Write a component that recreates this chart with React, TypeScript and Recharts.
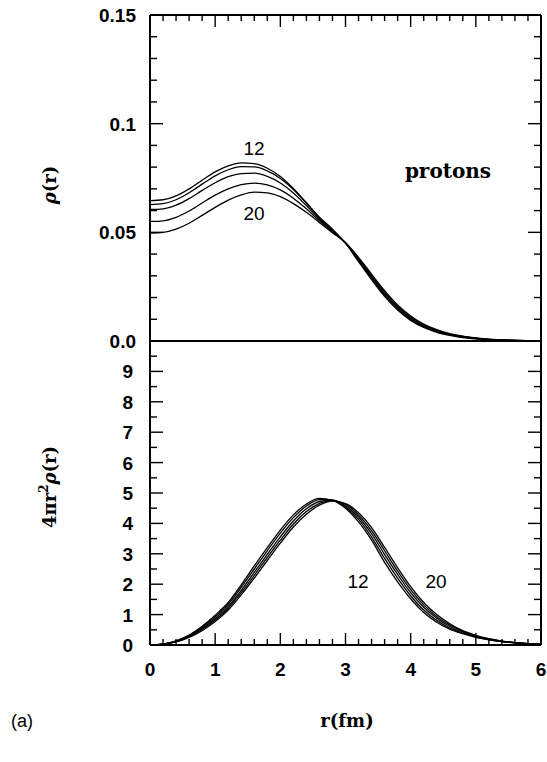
import React from 'react';
import { LineChart, Line, XAxis, YAxis, ReferenceLine } from 'recharts';

// radius grid (fm)
const rGrid = [0, 0.2, 0.4, 0.6, 0.8, 1.0, 1.2, 1.4, 1.6, 1.8, 2.0, 2.2, 2.4, 2.6, 2.8, 3.0, 3.2, 3.4, 3.6, 3.8, 4.0, 4.2, 4.4, 4.6, 4.8, 5.0, 5.2, 5.4, 5.6, 5.8, 6.0];

// proton density rho(r), curves labelled 12 ... 20
const rho12 = [0.0646, 0.0650, 0.0668, 0.0700, 0.0740, 0.0778, 0.0806, 0.0820, 0.0816, 0.0795, 0.0757, 0.0702, 0.0636, 0.0570, 0.0515, 0.0450, 0.0365, 0.0282, 0.0205, 0.0142, 0.0095, 0.0062, 0.0040, 0.0026, 0.0016, 0.0010, 0.0006, 0.00035, 0.0002, 0.0001, 0.00005];
const rho14 = [0.0628, 0.0632, 0.0650, 0.0682, 0.0722, 0.0760, 0.0788, 0.0802, 0.0801, 0.0783, 0.0748, 0.0697, 0.0634, 0.0566, 0.0510, 0.0450, 0.0370, 0.0288, 0.0211, 0.0147, 0.0099, 0.0066, 0.0043, 0.0028, 0.0018, 0.0011, 0.00065, 0.0004, 0.00022, 0.00012, 0.00006];
const rho16 = [0.0605, 0.0608, 0.0625, 0.0655, 0.0693, 0.0728, 0.0756, 0.0770, 0.0772, 0.0757, 0.0727, 0.0681, 0.0623, 0.0560, 0.0506, 0.0451, 0.0375, 0.0295, 0.0218, 0.0154, 0.0104, 0.0070, 0.0046, 0.0030, 0.0019, 0.0012, 0.0007, 0.00042, 0.00025, 0.00013, 0.00007];
const rho18 = [0.0550, 0.0553, 0.0569, 0.0598, 0.0635, 0.0671, 0.0700, 0.0719, 0.0726, 0.0718, 0.0695, 0.0657, 0.0608, 0.0553, 0.0502, 0.0452, 0.0380, 0.0301, 0.0225, 0.0160, 0.0110, 0.0074, 0.0049, 0.0032, 0.0021, 0.0013, 0.00075, 0.00045, 0.00028, 0.00014, 0.00008];
const rho20 = [0.0497, 0.0500, 0.0515, 0.0542, 0.0578, 0.0615, 0.0648, 0.0672, 0.0685, 0.0682, 0.0664, 0.0632, 0.0592, 0.0545, 0.0498, 0.0452, 0.0385, 0.0308, 0.0232, 0.0166, 0.0115, 0.0078, 0.0052, 0.0034, 0.0022, 0.0014, 0.0008, 0.0005, 0.0003, 0.00015, 0.00008];

// radial distribution 4 pi r^2 rho(r)
const rad12 = [0, 0.03, 0.14, 0.33, 0.62, 0.98, 1.40, 1.98, 2.60, 3.20, 3.78, 4.28, 4.64, 4.82, 4.76, 4.50, 4.05, 3.45, 2.72, 2.08, 1.52, 1.07, 0.75, 0.52, 0.37, 0.25, 0.17, 0.11, 0.07, 0.04, 0.02];
const rad14 = [0, 0.03, 0.13, 0.31, 0.58, 0.93, 1.34, 1.90, 2.50, 3.10, 3.68, 4.19, 4.57, 4.78, 4.77, 4.54, 4.13, 3.55, 2.85, 2.20, 1.62, 1.15, 0.81, 0.56, 0.39, 0.26, 0.18, 0.115, 0.072, 0.042, 0.022];
const rad16 = [0, 0.03, 0.12, 0.29, 0.54, 0.87, 1.27, 1.80, 2.39, 2.98, 3.56, 4.08, 4.48, 4.72, 4.76, 4.58, 4.21, 3.66, 2.98, 2.32, 1.72, 1.24, 0.88, 0.61, 0.42, 0.28, 0.19, 0.12, 0.075, 0.043, 0.023];
const rad18 = [0, 0.028, 0.11, 0.27, 0.51, 0.82, 1.21, 1.72, 2.29, 2.88, 3.45, 3.98, 4.39, 4.66, 4.75, 4.62, 4.28, 3.76, 3.10, 2.43, 1.82, 1.32, 0.94, 0.66, 0.45, 0.30, 0.20, 0.125, 0.078, 0.044, 0.024];
const rad20 = [0, 0.025, 0.10, 0.25, 0.47, 0.77, 1.15, 1.65, 2.20, 2.78, 3.35, 3.88, 4.30, 4.60, 4.73, 4.65, 4.35, 3.86, 3.21, 2.54, 1.92, 1.40, 1.00, 0.70, 0.47, 0.32, 0.21, 0.13, 0.08, 0.045, 0.025];

// ticks
const xTicks = [0, 0.2, 0.4, 0.6, 0.8, 1, 1.2, 1.4, 1.6, 1.8, 2, 2.2, 2.4, 2.6, 2.8, 3, 3.2, 3.4, 3.6, 3.8, 4, 4.2, 4.4, 4.6, 4.8, 5, 5.2, 5.4, 5.6, 5.8, 6];
const rhoTicks = [0, 0.01, 0.02, 0.03, 0.04, 0.05, 0.06, 0.07, 0.08, 0.09, 0.1, 0.11, 0.12, 0.13, 0.14, 0.15];
const rhoTickLabels: Record<string, string> = { '0': '0.0', '0.05': '0.05', '0.1': '0.1', '0.15': '0.15' };
const radTicks = [0, 0.5, 1, 1.5, 2, 2.5, 3, 3.5, 4, 4.5, 5, 5.5, 6, 6.5, 7, 7.5, 8, 8.5, 9, 9.5, 10];
const radTickLabels = ['0', '1', '2', '3', '4', '5', '6', '7', '8', '9'];
const xTickLabels = ['0', '1', '2', '3', '4', '5', '6'];

const seriesKeys = ['c12', 'c14', 'c16', 'c18', 'c20'];
const rhoData = rGrid.map((r, i) => ({ r, c12: rho12[i], c14: rho14[i], c16: rho16[i], c18: rho18[i], c20: rho20[i] }));
const radData = rGrid.map((r, i) => ({ r, c12: rad12[i], c14: rad14[i], c16: rad16[i], c18: rad18[i], c20: rad20[i] }));

const INK = '#000';
const tickFont = { fontFamily: '"Liberation Sans", Arial, sans-serif', fontWeight: 700, fontSize: 19 } as const;
const annFont = { fontFamily: '"Liberation Sans", Arial, sans-serif', fontWeight: 400, fontSize: 19 } as const;
const serif = '"DejaVu Serif", "Liberation Serif", serif';

const W = 547;
const H = 762;
const LEFT = 150;
const RIGHT = 6;
const TOP = 15;
const MID = 341;
const BOTTOM = 645;

const isMult = (v: number, step: number) => Math.abs(v / step - Math.round(v / step)) < 1e-6;

const makeXTick = (dir: number, labels: boolean) => (props: any) => {
  const { x, y, payload } = props;
  const v = payload.value as number;
  const major = isMult(v, 1);
  const len = major ? 12 : 6;
  return (
    <g>
      <line x1={x} x2={x} y1={y} y2={y + dir * len} stroke={INK} strokeWidth={1.4} />
      {labels && major ? (
        <text x={x} y={y + 31} textAnchor="middle" fill={INK} {...tickFont}>
          {xTickLabels[Math.round(v)]}
        </text>
      ) : null}
    </g>
  );
};

const makeRhoYTick = (dir: number, labels: boolean) => (props: any) => {
  const { x, y, payload } = props;
  const v = payload.value as number;
  const major = isMult(v, 0.05);
  const len = major ? 13 : 7;
  const lab = rhoTickLabels[String(v)];
  return (
    <g>
      <line x1={x} x2={x + dir * len} y1={y} y2={y} stroke={INK} strokeWidth={1.4} />
      {labels && major && lab ? (
        <text x={x - 14} y={y + 7} textAnchor="end" fill={INK} {...tickFont}>
          {lab}
        </text>
      ) : null}
    </g>
  );
};

const makeRadYTick = (dir: number, labels: boolean) => (props: any) => {
  const { x, y, payload } = props;
  const v = payload.value as number;
  const major = isMult(v, 1);
  const len = major ? 13 : 7;
  const lab = major && v < 10 ? radTickLabels[Math.round(v)] : null;
  return (
    <g>
      <line x1={x} x2={x + dir * len} y1={y} y2={y} stroke={INK} strokeWidth={1.4} />
      {labels && lab ? (
        <text x={x - 17} y={y + 7} textAnchor="end" fill={INK} {...tickFont}>
          {lab}
        </text>
      ) : null}
    </g>
  );
};

const axisLine = { stroke: INK, strokeWidth: 2 };

export default function App() {
  return (
    <div style={{ position: 'absolute', left: 0, top: 0, width: W, height: H, background: '#fff' }}>
      <div style={{ position: 'absolute', left: 0, top: 0 }}>
        <LineChart width={W} height={H} data={rhoData} margin={{ top: TOP - 1, right: RIGHT - 1, left: LEFT - 1, bottom: H - MID }}>
          <XAxis xAxisId="top" orientation="top" dataKey="r" type="number" domain={[0, 6]} ticks={xTicks} interval={0}
            height={1} tickSize={0} tickMargin={0} tickLine={false} axisLine={axisLine} tick={makeXTick(1, false)} allowDataOverflow />
          <YAxis yAxisId="left" orientation="left" type="number" domain={[0, 0.15]} ticks={rhoTicks} interval={0}
            width={1} tickSize={0} tickMargin={0} tickLine={false} axisLine={axisLine} tick={makeRhoYTick(1, true)} allowDataOverflow />
          <YAxis yAxisId="right" orientation="right" type="number" domain={[0, 0.15]} ticks={rhoTicks} interval={0}
            width={1} tickSize={0} tickMargin={0} tickLine={false} axisLine={axisLine} tick={makeRhoYTick(-1, false)} allowDataOverflow />
          <ReferenceLine xAxisId="top" yAxisId="left" y={0} stroke={INK} strokeWidth={2} />
          {seriesKeys.map((k) => (
            <Line key={k} xAxisId="top" yAxisId="left" dataKey={k} type="monotone" stroke={INK} strokeWidth={1.3}
              dot={false} isAnimationActive={false} />
          ))}
        </LineChart>
      </div>
      <div style={{ position: 'absolute', left: 0, top: 0 }}>
        <LineChart width={W} height={H} data={radData} margin={{ top: MID, right: RIGHT - 1, left: LEFT - 1, bottom: H - BOTTOM - 1 }}>
          <XAxis xAxisId="bottom" orientation="bottom" dataKey="r" type="number" domain={[0, 6]} ticks={xTicks} interval={0}
            height={1} tickSize={0} tickMargin={0} tickLine={false} axisLine={axisLine} tick={makeXTick(-1, true)} allowDataOverflow />
          <YAxis yAxisId="left" orientation="left" type="number" domain={[0, 10]} ticks={radTicks} interval={0}
            width={1} tickSize={0} tickMargin={0} tickLine={false} axisLine={axisLine} tick={makeRadYTick(1, true)} allowDataOverflow />
          <YAxis yAxisId="right" orientation="right" type="number" domain={[0, 10]} ticks={radTicks} interval={0}
            width={1} tickSize={0} tickMargin={0} tickLine={false} axisLine={axisLine} tick={makeRadYTick(-1, false)} allowDataOverflow />
          {seriesKeys.map((k) => (
            <Line key={k} xAxisId="bottom" yAxisId="left" dataKey={k} type="monotone" stroke={INK} strokeWidth={1.3}
              dot={false} isAnimationActive={false} />
          ))}
        </LineChart>
      </div>
      <svg width={W} height={H} style={{ position: 'absolute', left: 0, top: 0, pointerEvents: 'none' }}>
        <g fill={INK}>
          <text x={254} y={155} textAnchor="middle" {...annFont}>12</text>
          <text x={254} y={220} textAnchor="middle" {...annFont}>20</text>
          <text x={448} y={178} textAnchor="middle" fontFamily={serif} fontWeight={700} fontSize={20}>protons</text>
          <text x={358} y={588} textAnchor="middle" {...annFont}>12</text>
          <text x={436} y={588} textAnchor="middle" {...annFont}>20</text>
          <text transform="translate(56,185) rotate(-90)" textAnchor="middle" fontFamily={serif} fontWeight={700} fontSize={18}>
            <tspan fontStyle="italic">ρ</tspan>(r)
          </text>
          <text transform="translate(56,487) rotate(-90)" textAnchor="middle" fontFamily={serif} fontWeight={700} fontSize={18}>
            4πr<tspan dy={-8} fontSize={12}>2</tspan><tspan dy={8} fontStyle="italic">ρ</tspan>(r)
          </text>
          <text x={347} y={727} textAnchor="middle" fontFamily={serif} fontWeight={700} fontSize={18}>r(fm)</text>
          <text x={22} y={727} textAnchor="middle" fontFamily='"Liberation Sans", Arial, sans-serif' fontSize={18}>(a)</text>
        </g>
      </svg>
    </div>
  );
}
